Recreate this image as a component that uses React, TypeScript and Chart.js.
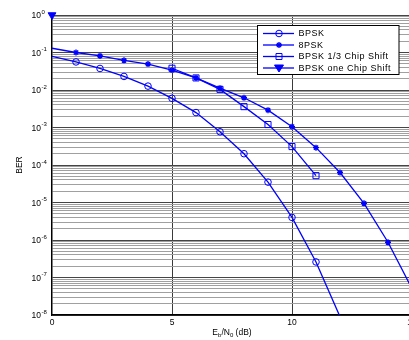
import React, { useEffect, useRef } from "react";
import { Chart, registerables } from "chart.js";

Chart.register(...registerables);

const seriesLabels = ["BPSK", "8PSK", "BPSK 1/3 Chip Shift", "BPSK one Chip Shift"];

const bpskX = [0, 1, 2, 3, 4, 5, 6, 7, 8, 9, 10, 11, 12];
const bpskBER = [0.079, 0.056, 0.0375, 0.023, 0.0127, 0.006, 0.0025, 0.00077, 0.0002, 0.000035, 0.000004, 0.00000026, 0.000000009];

const psk8X = [0, 1, 2, 3, 4, 5, 6, 7, 8, 9, 10, 11, 12, 13, 14, 15];
const psk8BER = [0.13, 0.1, 0.081, 0.062, 0.049, 0.034, 0.021, 0.0112, 0.0062, 0.0029, 0.00105, 0.00029, 0.000063, 0.0000095, 0.00000087, 0.00000005];

const chip13X = [5, 6, 7, 8, 9, 10, 11];
const chip13BER = [0.038, 0.021, 0.0104, 0.0036, 0.0012, 0.00031, 0.000052];

const chip1X = [0];
const chip1BER = [1];

const xTickValues = [0, 5, 10, 15];
const xTickLabels = ["0", "5", "10", "15"];
const yExponents = [0, -1, -2, -3, -4, -5, -6, -7, -8];

const FONT = "'Liberation Sans', Arial, sans-serif";
const BLUE = "#0000ff";

function pts(xs: number[], ys: number[]) {
  return xs.map((x, i) => ({ x, y: ys[i] }));
}

function drawMarker(ctx: CanvasRenderingContext2D, style: string, x: number, y: number) {
  ctx.save();
  ctx.strokeStyle = BLUE;
  ctx.fillStyle = BLUE;
  ctx.lineWidth = 1;
  ctx.beginPath();
  if (style === "circle") {
    ctx.arc(x, y, 3.3, 0, Math.PI * 2);
    ctx.stroke();
  } else if (style === "star") {
    const r = 3;
    ctx.lineWidth = 1.4;
    for (let a = 0; a < 4; a++) {
      const ang = (a * Math.PI) / 4;
      ctx.moveTo(x - Math.cos(ang) * r, y - Math.sin(ang) * r);
      ctx.lineTo(x + Math.cos(ang) * r, y + Math.sin(ang) * r);
    }
    ctx.stroke();
  } else if (style === "rect") {
    ctx.rect(x - 3, y - 3, 6, 6);
    ctx.stroke();
  } else if (style === "triangleDown") {
    ctx.moveTo(x - 4.5, y - 3);
    ctx.lineTo(x + 4.5, y - 3);
    ctx.lineTo(x, y + 4);
    ctx.closePath();
    ctx.fill();
    ctx.stroke();
  }
  ctx.restore();
}

const markerStyles = ["circle", "star", "rect", "triangleDown"];

const decorPlugin = {
  id: "decor",
  afterDraw(chart: any) {
    const ctx: CanvasRenderingContext2D = chart.ctx;
    const ys = chart.scales.y;
    const xs = chart.scales.x;
    const area = chart.chartArea;
    ctx.save();
    ctx.fillStyle = "#000";
    // y tick labels
    yExponents.forEach((e) => {
      const py = ys.getPixelForValue(Math.pow(10, e));
      ctx.font = `8.5px ${FONT}`;
      ctx.textAlign = "right";
      ctx.textBaseline = "middle";
      ctx.fillText("10", 41, py + 1);
      ctx.font = `6px ${FONT}`;
      ctx.textAlign = "left";
      ctx.fillText(String(e), 41.5, py - 3);
    });
    // x tick labels
    ctx.font = `8.5px ${FONT}`;
    ctx.textAlign = "center";
    ctx.textBaseline = "middle";
    xTickValues.forEach((v, i) => {
      ctx.fillText(xTickLabels[i], xs.getPixelForValue(v), 322.5);
    });
    // x title  E_b/N_0 (dB)
    const parts: [string, number, number][] = [
      ["E", 8.5, 0],
      ["b", 6, 2.5],
      ["/N", 8.5, 0],
      ["0", 6, 2.5],
      [" (dB)", 8.5, 0],
    ];
    let total = 0;
    parts.forEach(([t, s]) => {
      ctx.font = `${s}px ${FONT}`;
      total += ctx.measureText(t).width;
    });
    let cx = (area.left + area.right) / 2 - total / 2;
    ctx.textAlign = "left";
    parts.forEach(([t, s, dy]) => {
      ctx.font = `${s}px ${FONT}`;
      ctx.fillText(t, cx, 333 + dy);
      cx += ctx.measureText(t).width;
    });
    // y title
    ctx.save();
    ctx.translate(20, (area.top + area.bottom) / 2);
    ctx.rotate(-Math.PI / 2);
    ctx.font = `8.5px ${FONT}`;
    ctx.textAlign = "center";
    ctx.textBaseline = "middle";
    ctx.fillText("BER", 0, 0);
    ctx.restore();
    // legend
    const bx = 257.5, by = 25.5, bw = 141.5, bh = 49;
    ctx.fillStyle = "#fff";
    ctx.fillRect(bx, by, bw, bh);
    ctx.strokeStyle = "#000";
    ctx.lineWidth = 1;
    ctx.strokeRect(bx, by, bw, bh);
    const rows = [33.5, 45, 56.5, 68];
    seriesLabels.forEach((lab, i) => {
      const ry = rows[i];
      ctx.strokeStyle = BLUE;
      ctx.lineWidth = 1.3;
      ctx.beginPath();
      ctx.moveTo(263, ry);
      ctx.lineTo(294, ry);
      ctx.stroke();
      drawMarker(ctx, markerStyles[i], 279, ry);
      ctx.fillStyle = "#000";
      ctx.font = `9px ${FONT}`;
      (ctx as any).letterSpacing = "0.5px";
      ctx.textAlign = "left";
      ctx.textBaseline = "middle";
      ctx.fillText(lab, 298.5, ry + 0.5);
      (ctx as any).letterSpacing = "0px";
    });
    ctx.restore();
  },
};

export default function App() {
  const ref = useRef<HTMLCanvasElement>(null);
  useEffect(() => {
    if (!ref.current) return;
    const hideFirst = (r: number) => (c: any) => (c.dataIndex === 0 ? 0 : r);
    const chart = new Chart(ref.current, {
      type: "line",
      data: {
        datasets: [
          {
            label: seriesLabels[0],
            data: pts(bpskX, bpskBER),
            borderColor: BLUE,
            backgroundColor: "rgba(0,0,0,0)",
            borderWidth: 1.3,
            pointStyle: "circle",
            pointRadius: (c: any) => (c.dataIndex === 0 || c.dataIndex === bpskX.length - 1 ? 0 : 3.3),
            pointBorderWidth: 1,
            pointBorderColor: BLUE,
            pointBackgroundColor: "rgba(0,0,0,0)",
            tension: 0,
          },
          {
            label: seriesLabels[1],
            data: pts(psk8X, psk8BER),
            borderColor: BLUE,
            backgroundColor: "rgba(0,0,0,0)",
            borderWidth: 1.3,
            pointStyle: "star",
            pointRadius: hideFirst(3),
            pointBorderWidth: 1.4,
            pointBorderColor: BLUE,
            tension: 0,
          },
          {
            label: seriesLabels[2],
            data: pts(chip13X, chip13BER),
            borderColor: BLUE,
            backgroundColor: "rgba(0,0,0,0)",
            borderWidth: 1.3,
            pointStyle: "rect",
            pointRadius: 4.3,
            pointBorderWidth: 1,
            pointBorderColor: BLUE,
            pointBackgroundColor: "rgba(0,0,0,0)",
            tension: 0,
          },
          {
            label: seriesLabels[3],
            data: pts(chip1X, chip1BER),
            borderColor: BLUE,
            backgroundColor: BLUE,
            borderWidth: 1.3,
            pointStyle: "triangle",
            rotation: 180,
            pointRadius: 4.5,
            pointBorderWidth: 1,
            pointBorderColor: BLUE,
            pointBackgroundColor: BLUE,
            clip: false as any,
          },
        ] as any,
      },
      options: {
        animation: false,
        responsive: false,
        layout: { padding: { left: 52, top: 15, right: 8, bottom: 0 } },
        plugins: { legend: { display: false }, tooltip: { enabled: false } },
        scales: {
          x: {
            type: "linear",
            min: 0,
            max: 15,
            afterBuildTicks: (s: any) => {
              s.ticks = xTickValues.map((v) => ({ value: v }));
            },
            afterFit: (s: any) => {
              s.height = 25;
            },
            ticks: { display: false },
            grid: {
              drawTicks: false,
              color: (c: any) => (c.tick && c.tick.value === 0 ? "rgba(0,0,0,0)" : "#3a3a3a"),
              lineWidth: 1,
            },
            border: { display: true, color: "#000", width: 1.5 },
          },
          y: {
            type: "logarithmic",
            min: 1e-8,
            max: 1,
            afterBuildTicks: (s: any) => {
              const t: any[] = [];
              for (let e = -8; e <= 0; e++) {
                for (let m = 1; m <= 9; m++) {
                  const v = m * Math.pow(10, e);
                  if (v <= 1.0000001) t.push({ value: v });
                }
              }
              s.ticks = t;
            },
            afterFit: (s: any) => {
              s.width = 0;
            },
            ticks: { display: false },
            grid: {
              drawTicks: false,
              color: (c: any) => {
                const v = c.tick ? c.tick.value : 1;
                const l = Math.log10(v);
                return Math.abs(l - Math.round(l)) < 1e-6 ? "#454545" : "#a0a0a0";
              },
              lineWidth: 1,
            },
            border: { display: true, color: "#000", width: 1.5 },
          },
        },
      } as any,
      plugins: [decorPlugin],
    });
    return () => chart.destroy();
  }, []);
  return (
    <div
      style={{
        position: "fixed",
        left: 0,
        top: 0,
        width: 409,
        height: 340,
        overflow: "hidden",
        background: "#fff",
      }}
    >
      <canvas ref={ref} width={420} height={340} style={{ display: "block" }} />
    </div>
  );
}
